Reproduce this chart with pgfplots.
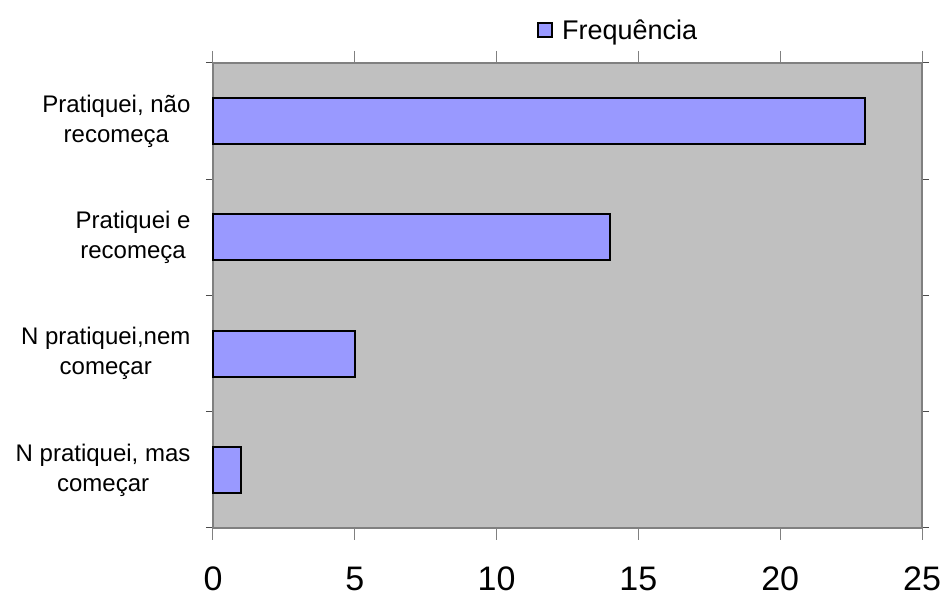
\documentclass[border=0pt]{standalone}
\usepackage{pgfplots}
\pgfplotsset{compat=1.18}
\usepackage{fontspec}
\setmainfont{Liberation Sans}
\definecolor{barfill}{HTML}{9999FF}
\definecolor{plotbg}{HTML}{C0C0C0}
\definecolor{frame}{HTML}{808080}
\begin{document}
\begin{tikzpicture}
\begin{axis}[
  scale only axis,
  width=709pt, height=465pt,
  xbar,
  bar width=46pt,
  xmin=0, xmax=25,
  ymin=0.5, ymax=4.5,
  axis background/.style={fill=plotbg},
  axis line style={draw=frame, line width=1.5pt},
  tick align=outside,
  xtick={0,5,10,15,20,25},
  major tick length=12pt,
  xtick style={draw=frame, line width=1pt},
  ytick={1,2,3,4},
  ytick style={draw=none},
  minor ytick={0.5,1.5,2.5,3.5,4.5},
  minor tick length=7pt,
  minor y tick style={draw=black!70, line width=1pt},
  yticklabels={{N pratiquei, mas\\começar},{N pratiquei,nem\\começar},{Pratiquei e\\recomeça},{Pratiquei, não\\recomeça}},
  yticklabel style={align=center, font=\fontsize{24}{30}\selectfont, xshift=-7pt},
  xticklabel style={font=\fontsize{34}{40}\selectfont, /pgf/number format/assume math mode=true,
    anchor=north, text height=25pt, text depth=0pt, yshift=-22pt},
  legend style={at={(0.571,1.071)}, anchor=center, draw=none, fill=none,
    font=\fontsize{27}{30}\selectfont, inner sep=0pt},
  legend image code/.code={\draw[#1, line width=2.5pt] (0pt,-7pt) rectangle (14pt,7pt);},
  clip=false,
]
\addplot[fill=barfill, draw=black, line width=2.2pt] coordinates {(1,1) (5,2) (14,3) (23,4)};
\addlegendentry{\hspace{7pt}Frequência}
\coordinate (bl) at (rel axis cs:0,0);
\coordinate (tr) at (rel axis cs:1,1);
\end{axis}
\path[use as bounding box] ([xshift=-213pt,yshift=-70pt]bl) rectangle ([xshift=25pt,yshift=63pt]tr);
\end{tikzpicture}
\end{document}
